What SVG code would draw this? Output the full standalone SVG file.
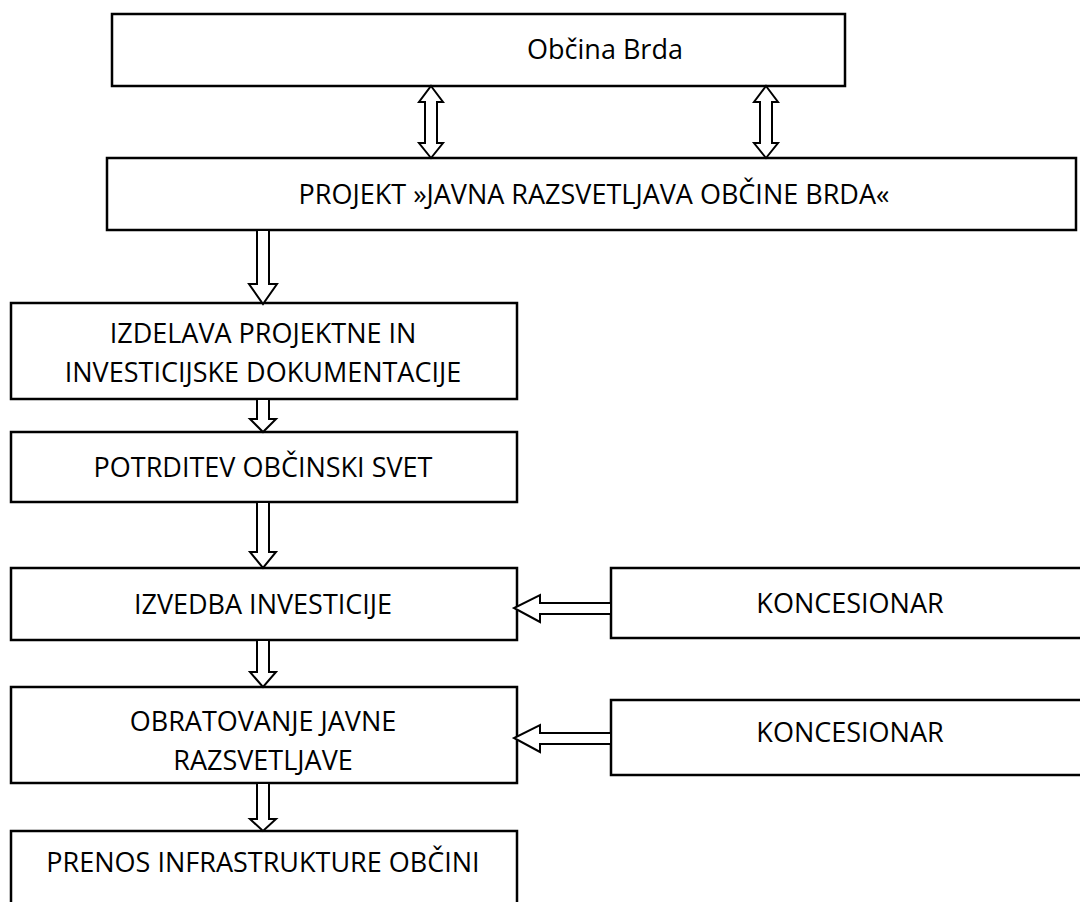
<svg xmlns="http://www.w3.org/2000/svg" width="1080" height="902" viewBox="0 0 1080 902">
<style>
.box{fill:#fff;stroke:#000;stroke-width:2.5}
.arr{fill:#fff;stroke:#000;stroke-width:2;stroke-linejoin:miter}
text{font-family:"Open Sans","Liberation Sans",sans-serif;font-size:27px;fill:#000;text-anchor:middle}
</style>
<rect width="1080" height="902" fill="#fff"/>
<g id="n1"><rect class="box" x="112" y="14" width="733" height="72"/><text x="605" y="59">Občina Brda</text></g>
<g id="n2"><rect class="box" x="107" y="158" width="969" height="72"/><text x="594" y="204">PROJEKT »JAVNA RAZSVETLJAVA OBČINE BRDA«</text></g>
<g id="n3"><rect class="box" x="11" y="303" width="506" height="96"/><text x="263" y="343">IZDELAVA PROJEKTNE IN</text><text x="263" y="382">INVESTICIJSKE DOKUMENTACIJE</text></g>
<g id="n4"><rect class="box" x="11" y="432" width="506" height="70"/><text x="263" y="477">POTRDITEV OBČINSKI SVET</text></g>
<g id="n5"><rect class="box" x="11" y="568" width="506" height="72"/><text x="263" y="614">IZVEDBA INVESTICIJE</text></g>
<g id="n6"><rect class="box" x="11" y="687" width="506" height="96"/><text x="263" y="731">OBRATOVANJE JAVNE</text><text x="263" y="770">RAZSVETLJAVE</text></g>
<g id="n7"><rect class="box" x="11" y="831" width="506" height="100"/><text x="263" y="872">PRENOS INFRASTRUKTURE OBČINI</text></g>
<g id="k1"><rect class="box" x="611" y="568" width="500" height="70"/><text x="850" y="613">KONCESIONAR</text></g>
<g id="k2"><rect class="box" x="611" y="700" width="500" height="75"/><text x="850" y="742">KONCESIONAR</text></g>
<g id="connectors">
<path class="arr" d="M431 86 L443 102 L437 102 L437 143 L443 143 L431 158 L419 143 L425 143 L425 102 L419 102 Z"/>
<path class="arr" d="M766 86 L778 102 L772 102 L772 143 L778 143 L766 158 L754 143 L760 143 L760 102 L754 102 Z"/>
<path class="arr" d="M257 230 L269 230 L269 284 L277 284 L263 304 L249 284 L257 284 Z"/>
<path class="arr" d="M257 399 L269 399 L269 419 L276 419 L263 432 L250 419 L257 419 Z"/>
<path class="arr" d="M257 502 L269 502 L269 552 L276 552 L263 568 L250 552 L257 552 Z"/>
<path class="arr" d="M257 640 L269 640 L269 672 L276 672 L263 687 L250 672 L257 672 Z"/>
<path class="arr" d="M257 783 L269 783 L269 819 L276 819 L263 831 L250 819 L257 819 Z"/>
<path class="arr" d="M611 603 L540 603 L540 595 L514 608 L540 622 L540 614 L611 614 Z"/>
<path class="arr" d="M611 733 L540 733 L540 725 L514 738 L540 752 L540 744 L611 744 Z"/>
</g>
</svg>
